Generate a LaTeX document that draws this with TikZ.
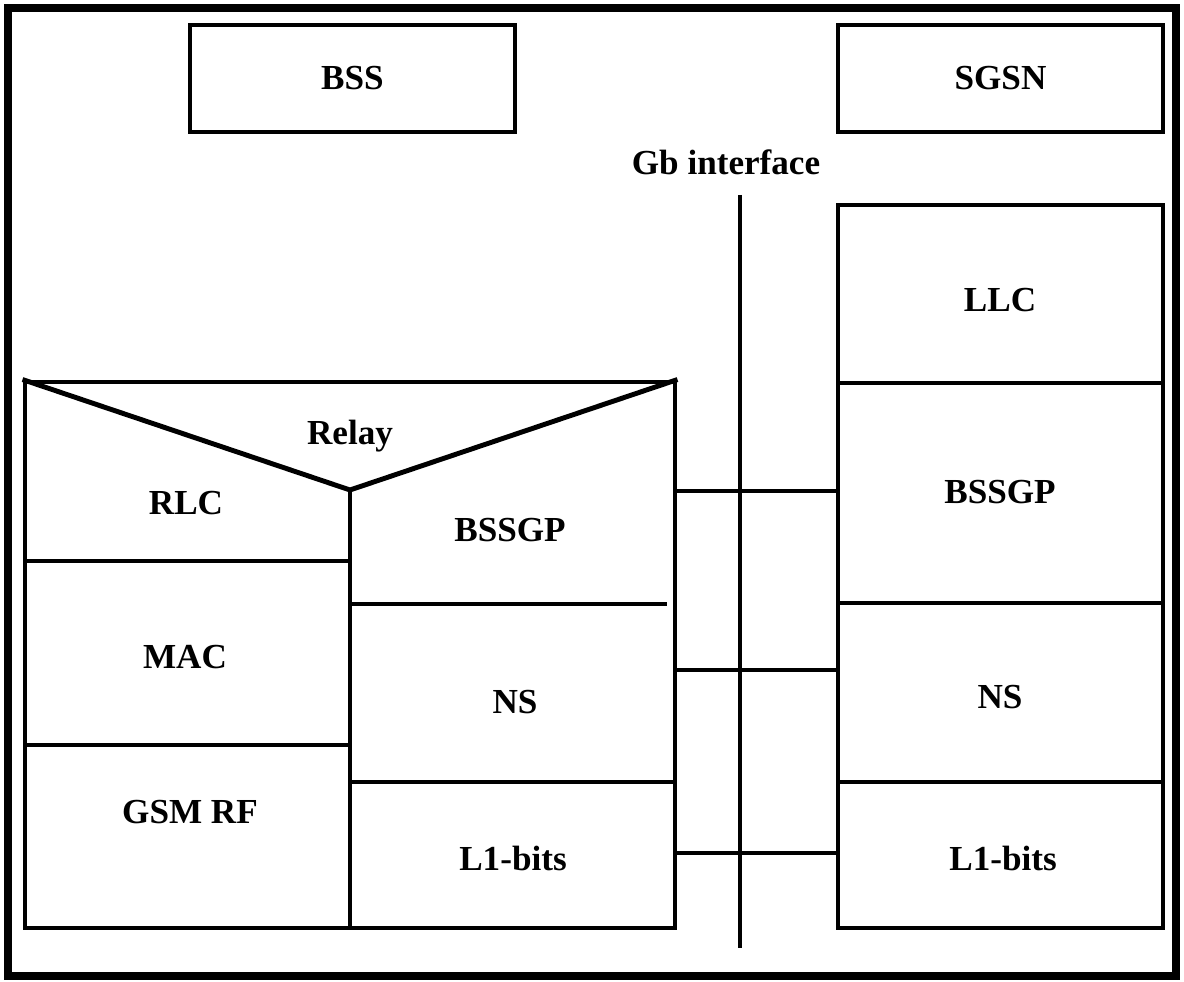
\documentclass[tikz,border=0pt]{standalone}
\usepackage{fontspec}
\setmainfont{Liberation Serif}
\usetikzlibrary{fit}
\begin{document}
\begin{tikzpicture}[x=0.02cm,y=-0.02cm,
  boxline/.style={line width=2.8pt,line cap=rect},
  box/.style={draw,boxline,inner sep=0pt},
  lbl/.style={font=\fontsize{20}{23}\selectfont\bfseries,inner sep=0pt},
  conn/.style={line width=2.8pt},
]
\useasboundingbox (0,0) rectangle (1184,982);
\draw[line width=4.5pt] (8,8) rectangle (1176,976);
% top boxes
\node[box,fit={(190,25) (515,132)}] (bss) {};
\node[lbl] (bsst) at (bss.center) {BSS};
\node[box,fit={(838,25) (1163,132)}] (sgsn) {};
\node[lbl] (sgsnt) at (sgsn.center) {SGSN};
% Gb interface
\node[lbl] (gbt) at (726,162) {Gb interface};
\coordinate (gbtop) at (740,195);
\coordinate (gbbot) at (740,948);
\draw[line width=2.3pt] (gbtop) -- (gbbot);
% right stack
\node[box,fit={(838,205) (1163,383)}] (rllc) {};
\node[box,fit={(838,383) (1163,603)}] (rbssgp) {};
\node[box,fit={(838,603) (1163,782)}] (rns) {};
\node[box,fit={(838,782) (1163,928)}] (rl1) {};
\node[lbl] (rllct) at (1000,300) {LLC};
\node[lbl] (rbssgpt) at (1000,492) {BSSGP};
\node[lbl] (rnst) at (1000,697) {NS};
\node[lbl] (rl1t) at (1003,858) {L1-bits};
% left stack
\node[box,fit={(25,382) (675,928)}] (left) {};
\coordinate (apex) at (350,490);
\draw[line width=2.8pt,line cap=butt,line join=round] (left.north west) -- (apex) -- (left.north east);
\draw[boxline] (apex) -- (350,928);
\draw[boxline] (25,561) -- (350,561);
\draw[boxline] (25,745) -- (350,745);
\draw[boxline] (350,604) -- (665,604);
\draw[boxline] (350,782) -- (675,782);
\node[lbl] (relayt) at (350,436) {Relay};
\node[lbl] (rlct) at (186,503) {RLC};
\node[lbl] (mact) at (185,657) {MAC};
\node[lbl] (gsmt) at (190,812) {GSM RF};
\node[lbl] (lbssgpt) at (510,530) {BSSGP};
\node[lbl] (lnst) at (515,702) {NS};
\node[lbl] (ll1t) at (513,858) {L1-bits};
% connectors
\coordinate (c1) at (675,491);
\coordinate (c2) at (675,670);
\coordinate (c3) at (675,853);
\draw[conn] (c1) -- (c1 -| rbssgp.west);
\draw[conn] (c2) -- (c2 -| rns.west);
\draw[conn] (c3) -- (c3 -| rl1.west);
\end{tikzpicture}
\end{document}
